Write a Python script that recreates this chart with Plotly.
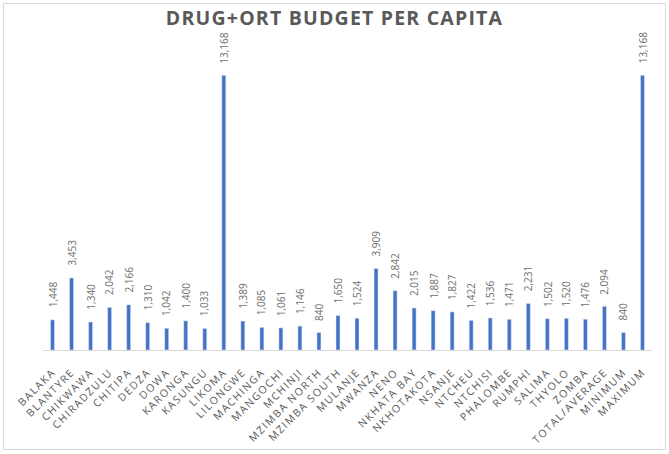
import plotly.graph_objects as go

categories = ["BALAKA", "BLANTYRE", "CHIKWAWA", "CHIRADZULU", "CHITIPA", "DEDZA", "DOWA",
              "KARONGA", "KASUNGU", "LIKOMA", "LILONGWE", "MACHINGA", "MANGOCHI", "MCHINJI",
              "MZIMBA NORTH", "MZIMBA SOUTH", "MULANJE", "MWANZA", "NENO", "NKHATA BAY",
              "NKHOTAKOTA", "NSANJE", "NTCHEU", "NTCHISI", "PHALOMBE", "RUMPHI", "SALIMA",
              "THYOLO", "ZOMBA", "TOTAL/AVERAGE", "MINIMUM", "MAXIMUM"]
values = [1448, 3453, 1340, 2042, 2166, 1310, 1042, 1400, 1033, 13168, 1389, 1085, 1061, 1146,
          840, 1650, 1524, 3909, 2842, 2015, 1887, 1827, 1422, 1536, 1471, 2231, 1502, 1520,
          1476, 2094, 840, 13168]

W, H = 669, 454
ml, mr, mt, mb = 43, 17, 58, 104
pw, ph = W - ml - mr, H - mt - mb

fig = go.Figure(go.Bar(
    x=categories, y=values,
    marker_color="#4472C4",
    hoverinfo="x+y",
))

annotations = [dict(x=c, y=v, xref="x", yref="y", text=f"{v:,}", showarrow=False,
                    textangle=-90, yanchor="bottom", xanchor="center", yshift=10,
                    font=dict(family="Open Sans", size=10, color="#6E6E6E"))
               for c, v in zip(categories, values)]

fig.update_layout(
    width=W, height=H,
    margin=dict(l=ml, r=mr, t=mt, b=mb),
    paper_bgcolor="white", plot_bgcolor="white",
    bargap=0.79,
    showlegend=False,
    annotations=annotations,
    title=dict(text="<b>DRUG+ORT BUDGET PER CAPITA</b>", x=0.5, xanchor="center",
               xref="container", y=1 - 18 / H, yanchor="middle",
               font=dict(family="Open Sans", size=19.5, color="#595959")),
    xaxis=dict(tickangle=-45, showline=True, linecolor="#D9D9D9", linewidth=1,
               ticks="", automargin=False, ticklabelstandoff=11,
               tickfont=dict(family="Open Sans", size=10.5, color="#595959"),
               showgrid=False),
    yaxis=dict(range=[0, 14000], visible=False, showgrid=False, automargin=False),
    shapes=[dict(type="rect", xref="paper", yref="paper",
                 x0=(3.5 - ml) / pw, x1=(665.5 - ml) / pw,
                 y0=(H - mb - 449.5) / ph, y1=(H - mb - 3.5) / ph,
                 line=dict(color="#D9D9D9", width=1), fillcolor="rgba(0,0,0,0)")],
)

css = """
document.body.style.margin = '0';
document.body.style.padding = '0';
var s = document.createElement('style');
s.innerHTML = 'body { margin: 0 !important; } .xtick text { letter-spacing: 1.5px; } .gtitle { letter-spacing: 1.2px; }';
document.head.appendChild(s);
"""
fig.write_html("out.html", post_script=css, config={"displayModeBar": False})
